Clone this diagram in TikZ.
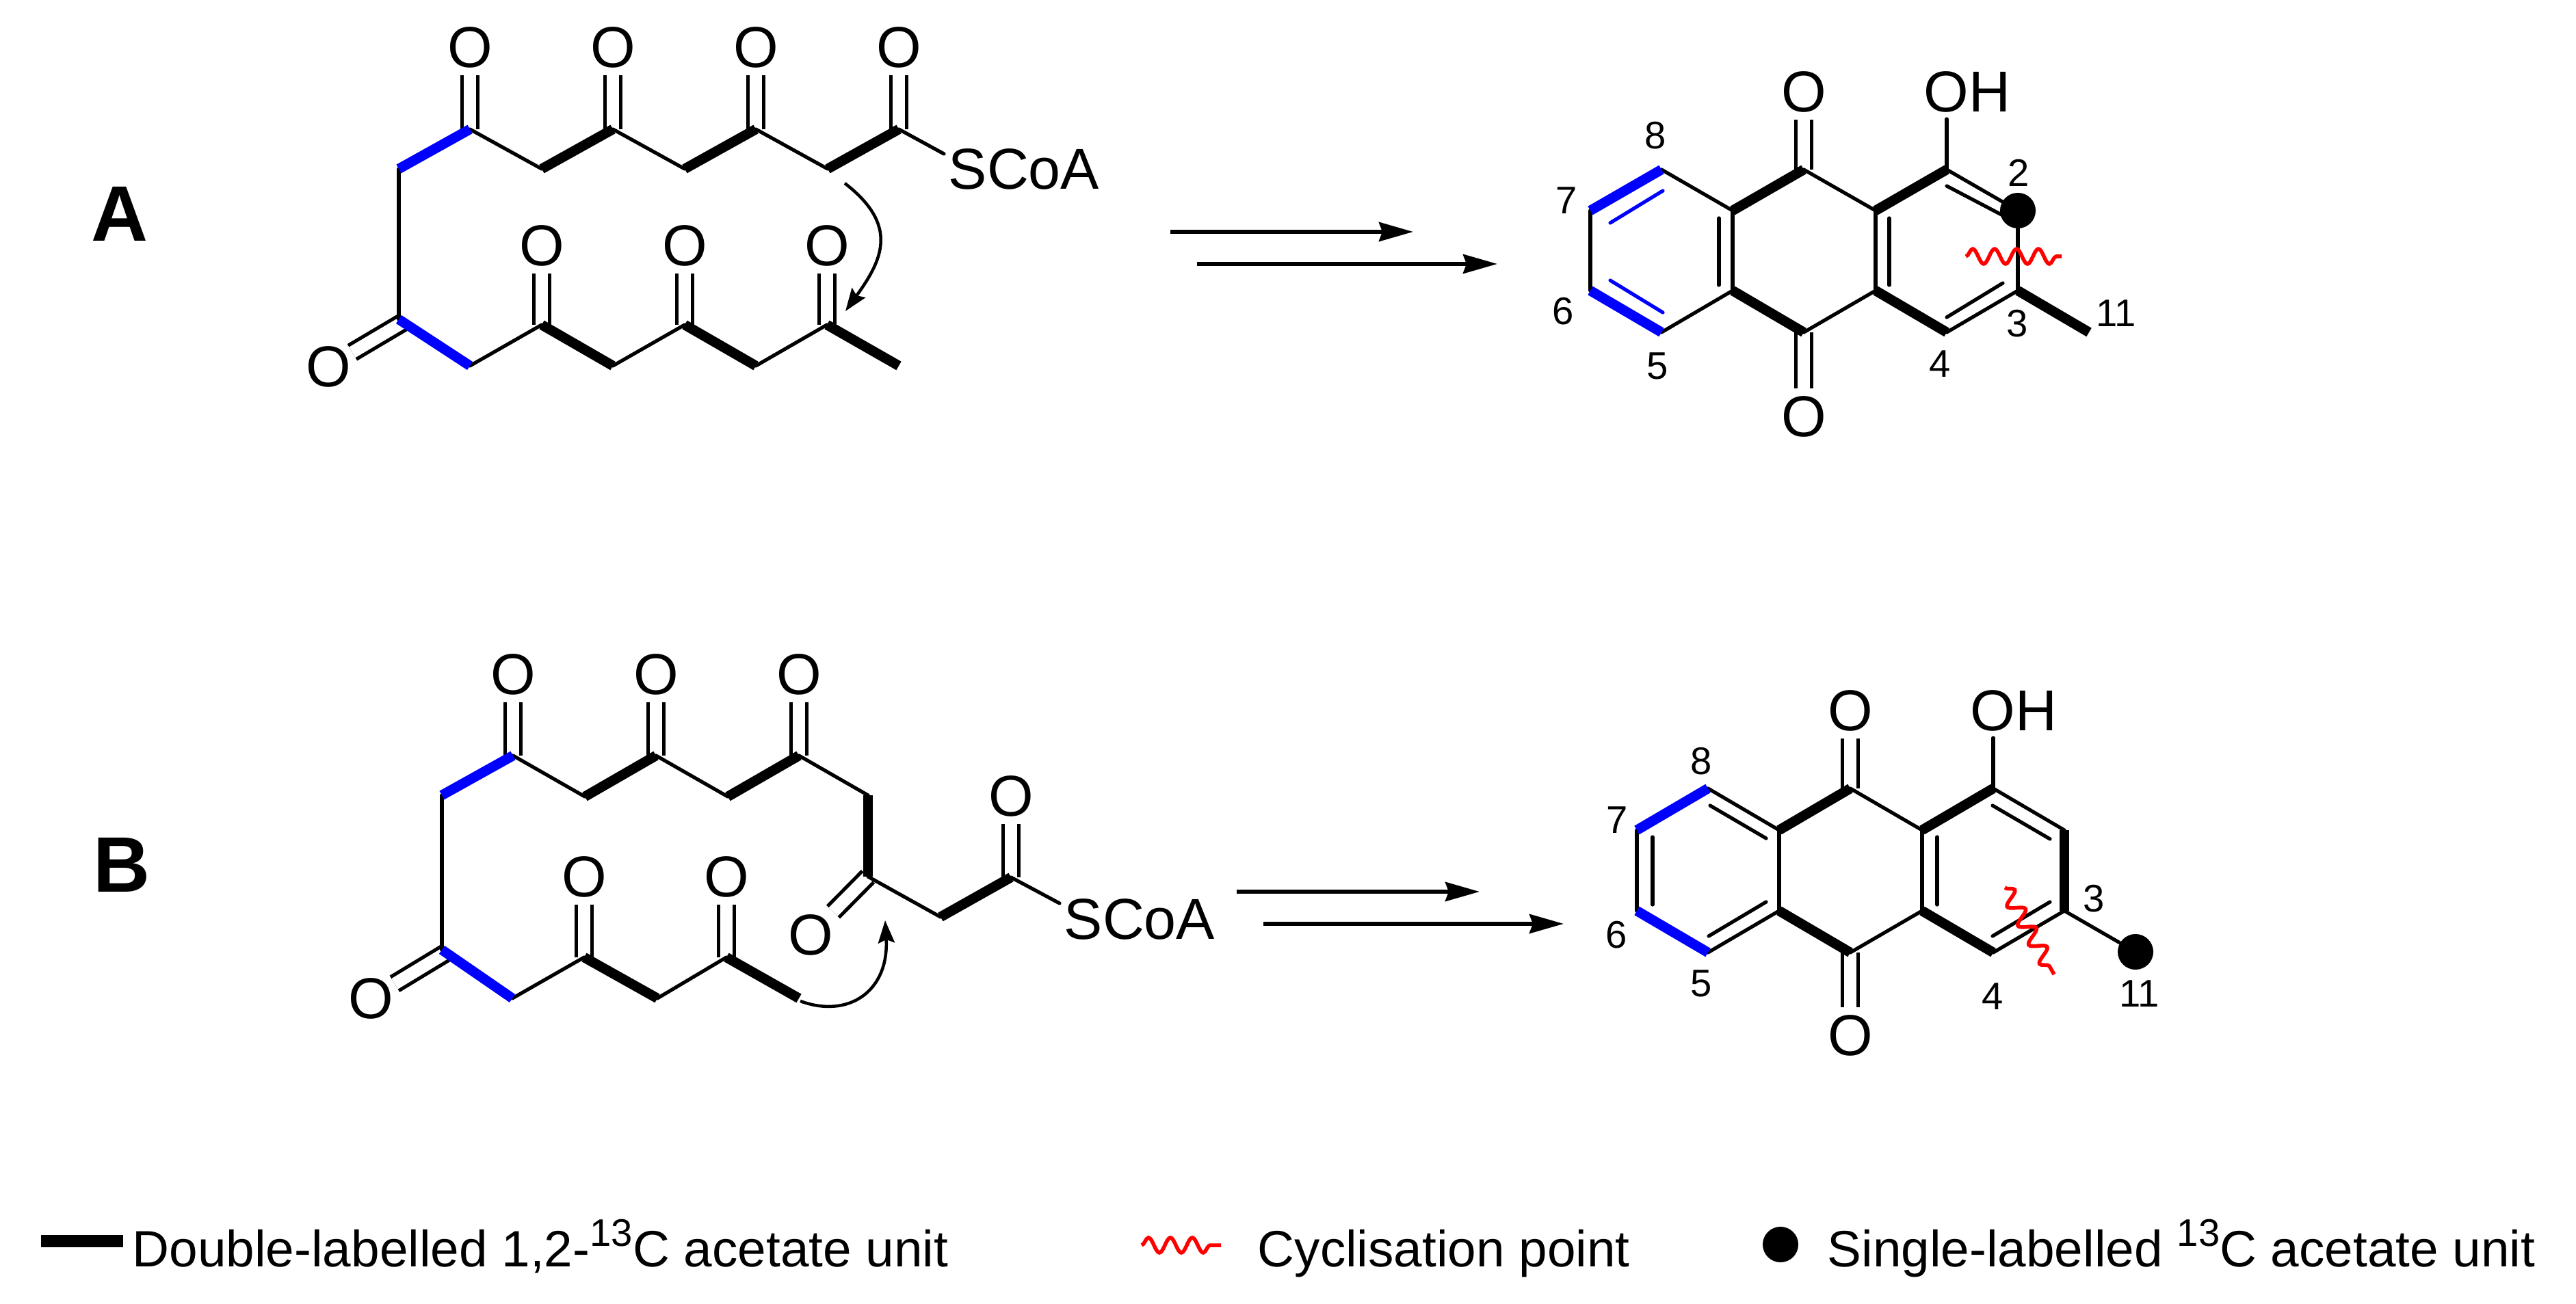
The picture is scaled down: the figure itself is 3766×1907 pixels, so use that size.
\documentclass[tikz,border=0pt]{standalone}
\usepackage{fontspec}
\setmainfont{Liberation Sans}
\usetikzlibrary{arrows.meta,decorations.pathmorphing}

\tikzstyle{refpic}=[x=0.01cm,y=-0.01cm]
\tikzstyle{thinbond}=[line width=0.052cm,line cap=round]
\tikzstyle{boldbond}=[line width=0.145cm]
\tikzstyle{bluebond}=[boldbond,color=blue]
\tikzstyle{bluethin}=[thinbond,color=blue]
\tikzstyle{ketone}=[line width=0.052cm,double,double distance=0.18cm]
\tikzstyle{tiltketone}=[ketone,shorten >=-0.1cm]
\tikzstyle{atom}=[font=\fontsize{24}{28}\selectfont,inner sep=0.1cm]
\tikzstyle{locant}=[font=\fontsize{16}{18}\selectfont,inner sep=0pt]
\tikzstyle{panel}=[font=\fontsize{32.7}{36}\selectfont\bfseries,inner sep=0pt]
\tikzstyle{legend}=[font=\fontsize{21.25}{24}\selectfont,inner sep=0pt,anchor=base west]
\tikzstyle{labeldot}=[circle,fill=black,inner sep=0pt,minimum size=0.52cm]
\tikzstyle{stepped}=[line width=0.055cm,-{Stealth[length=0.5cm,width=0.28cm,inset=0.05cm]}]
\tikzstyle{curly}=[line width=0.045cm,-{Stealth[length=0.33cm,width=0.24cm,inset=0.05cm]}]
\tikzstyle{wavy}=[color=red,line width=0.055cm,decorate,decoration={snake,segment length=0.32cm,amplitude=0.11cm}]

\begin{document}
\begin{tikzpicture}[style=refpic]
\useasboundingbox (0,0) rectangle (3766,1907);

% panel A, open chain
\node[panel] (panA) at (175,313) {A};
\coordinate (alft) at (583,247);
\coordinate (ak1) at (687,189);
\coordinate (am1) at (792,247);
\coordinate (ak2) at (896,189);
\coordinate (am2) at (1001,247);
\coordinate (ak3) at (1105,189);
\coordinate (am3) at (1210,247);
\coordinate (ak4) at (1314,189);
\coordinate (asend) at (1380,225);
\coordinate (blft) at (588,472);
\coordinate (blfb) at (583,467);
\coordinate (bm1) at (687,535);
\coordinate (bk1) at (792,475);
\coordinate (bm2) at (896,535);
\coordinate (bk2) at (1001,475);
\coordinate (bm3) at (1105,535);
\coordinate (bk3) at (1209,475);
\coordinate (bme) at (1314,535);
\node[atom] (ao1) at (687,69) {O};
\node[atom] (ao2) at (896,69) {O};
\node[atom] (ao3) at (1105,69) {O};
\node[atom] (ao4) at (1314,69) {O};
\node[atom] (bo1) at (792,359) {O};
\node[atom] (bo2) at (1001,359) {O};
\node[atom] (bo3) at (1209,359) {O};
\node[atom] (bo4) at (480,536) {O};
\node[atom,anchor=base west,inner sep=0pt] (ascoa) at (1386,277) {SCoA};
\draw[ketone] (ak1) -- (ao1);
\draw[ketone] (ak2) -- (ao2);
\draw[ketone] (ak3) -- (ao3);
\draw[ketone] (ak4) -- (ao4);
\draw[ketone] (bk1) -- (bo1);
\draw[ketone] (bk2) -- (bo2);
\draw[ketone] (bk3) -- (bo3);
\draw[tiltketone] (blft) -- (bo4);
\draw[thinbond] (ak1) -- (am1);
\draw[thinbond] (ak2) -- (am2);
\draw[thinbond] (ak3) -- (am3);
\draw[thinbond] (ak4) -- (asend);
\draw[thinbond] (alft) -- (blfb);
\draw[thinbond] (bm1) -- (bk1);
\draw[thinbond] (bm2) -- (bk2);
\draw[thinbond] (bm3) -- (bk3);
\draw[bluebond] (alft) -- (ak1);
\draw[boldbond] (am1) -- (ak2);
\draw[boldbond] (am2) -- (ak3);
\draw[boldbond] (am3) -- (ak4);
\draw[bluebond] (blfb) -- (bm1);
\draw[boldbond] (bk1) -- (bm2);
\draw[boldbond] (bk2) -- (bm3);
\draw[boldbond] (bk3) -- (bme);
\coordinate (acs) at (1235,268);
\coordinate (ace) at (1236,455);
\draw[curly] (acs) .. controls (1315,330) and (1290,380) .. (ace);

% panel A, arrows
\coordinate (ar1s) at (1711,339);
\coordinate (ar1e) at (2066,339);
\coordinate (ar2s) at (1750,386);
\coordinate (ar2e) at (2189,386);
\draw[stepped] (ar1s) -- (ar1e);
\draw[stepped] (ar2s) -- (ar2e);

% panel A, product
\coordinate (p7) at (2325,308);
\coordinate (p8) at (2429,248);
\coordinate (p6) at (2325,425);
\coordinate (p5) at (2429,486);
\coordinate (pj1) at (2533,308);
\coordinate (pj2) at (2533,425);
\coordinate (pk1) at (2637,248);
\coordinate (pk2) at (2637,486);
\coordinate (pj3) at (2742,308);
\coordinate (pj4) at (2742,425);
\coordinate (pc1) at (2846,248);
\coordinate (pc4) at (2846,486);
\coordinate (pc2) at (2950,308);
\coordinate (pc3) at (2950,425);
\coordinate (pme) at (3054,486);
\node[atom] (po1) at (2637,134) {O};
\node[atom] (po2) at (2637,609) {O};
\node[atom,inner sep=0pt] (poh) at (2876,134) {OH};
\coordinate (pohb) at (2846,174);
\draw[ketone] (pk1) -- (po1);
\draw[ketone] (pk2) -- (po2);
\draw[thinbond] (pc1) -- (pohb);
\draw[thinbond] (p7) -- (p6);
\draw[thinbond] (p8) -- (pj1);
\draw[thinbond] (p5) -- (pj2);
\draw[thinbond] (pj1) -- (pj2);
\draw[thinbond] (pk1) -- (pj3);
\draw[thinbond] (pk2) -- (pj4);
\draw[thinbond] (pj3) -- (pj4);
\draw[thinbond] (pc1) -- (pc2);
\draw[thinbond] (pc2) -- (pc3);
\draw[thinbond] (pc3) -- (pc4);
\draw[bluebond] (p7) -- (p8);
\draw[bluebond] (p6) -- (p5);
\draw[boldbond] (pj1) -- (pk1);
\draw[boldbond] (pj2) -- (pk2);
\draw[boldbond] (pj3) -- (pc1);
\draw[boldbond] (pj4) -- (pc4);
\draw[boldbond] (pc3) -- (pme);
\coordinate (pi1) at (2431,279);
\coordinate (pi2) at (2354,326);
\coordinate (pi3) at (2354,410);
\coordinate (pi4) at (2431,457);
\coordinate (pi5) at (2513,319);
\coordinate (pi6) at (2513,417);
\coordinate (pi7) at (2762,319);
\coordinate (pi8) at (2762,417);
\coordinate (pi9) at (2846,272);
\coordinate (pi10) at (2928,315);
\coordinate (pi11) at (2928,414);
\coordinate (pi12) at (2846,464);
\draw[bluethin] (pi1) -- (pi2);
\draw[bluethin] (pi3) -- (pi4);
\draw[thinbond] (pi5) -- (pi6);
\draw[thinbond] (pi7) -- (pi8);
\draw[thinbond] (pi9) -- (pi10);
\draw[thinbond] (pi11) -- (pi12);
\node[labeldot] (pdot) at (2950,308) {};
\coordinate (pwl) at (2874,375);
\coordinate (pwr) at (3014,375);
\draw[wavy] (pwl) -- (pwr);
\node[locant] (pl8) at (2420,198) {8};
\node[locant] (pl7) at (2290,293) {7};
\node[locant] (pl6) at (2285,455) {6};
\node[locant] (pl5) at (2423,535) {5};
\node[locant] (pl4) at (2836,532) {4};
\node[locant] (pl3) at (2949,473) {3};
\node[locant] (pl2) at (2951,253) {2};
\node[locant] (pl11) at (3094,458) {11};

% panel B, open chain
\node[panel] (panB) at (178,1265) {B};
\coordinate (clft) at (646,1163);
\coordinate (ck1) at (750,1105);
\coordinate (cm1) at (855,1165);
\coordinate (ck2) at (959,1105);
\coordinate (cm2) at (1064,1165);
\coordinate (ck3) at (1168,1105);
\coordinate (cm3) at (1269,1163);
\coordinate (ck4) at (1269,1282);
\coordinate (cm4) at (1375,1341);
\coordinate (ck5) at (1478,1283);
\coordinate (csend) at (1549,1321);
\coordinate (dlft) at (646,1389);
\coordinate (dlfb) at (651,1394);
\coordinate (dm1) at (749,1460);
\coordinate (dk1) at (854,1400);
\coordinate (dm2) at (961,1460);
\coordinate (dk2) at (1062,1400);
\coordinate (dme) at (1168,1460);
\node[atom] (co1) at (750,986) {O};
\node[atom] (co2) at (959,986) {O};
\node[atom] (co3) at (1168,986) {O};
\node[atom] (co4) at (1185,1367) {O};
\node[atom] (co5) at (1478,1164) {O};
\node[atom] (do1) at (854,1282) {O};
\node[atom] (do2) at (1062,1282) {O};
\node[atom] (do3) at (542,1460) {O};
\node[atom,anchor=base west,inner sep=0pt] (cscoa) at (1555,1373) {SCoA};
\draw[ketone] (ck1) -- (co1);
\draw[ketone] (ck2) -- (co2);
\draw[ketone] (ck3) -- (co3);
\draw[tiltketone] (ck4) -- (co4);
\draw[ketone] (ck5) -- (co5);
\draw[ketone] (dk1) -- (do1);
\draw[ketone] (dk2) -- (do2);
\draw[tiltketone] (dlfb) -- (do3);
\draw[thinbond] (clft) -- (dlft);
\draw[thinbond] (ck1) -- (cm1);
\draw[thinbond] (ck2) -- (cm2);
\draw[thinbond] (ck3) -- (cm3);
\draw[thinbond] (ck4) -- (cm4);
\draw[thinbond] (ck5) -- (csend);
\draw[thinbond] (dm1) -- (dk1);
\draw[thinbond] (dm2) -- (dk2);
\draw[bluebond] (clft) -- (ck1);
\draw[boldbond] (cm1) -- (ck2);
\draw[boldbond] (cm2) -- (ck3);
\draw[boldbond] (cm3) -- (ck4);
\draw[boldbond] (cm4) -- (ck5);
\draw[bluebond] (dlft) -- (dm1);
\draw[boldbond] (dk1) -- (dm2);
\draw[boldbond] (dk2) -- (dme);
\coordinate (ccs) at (1170,1464);
\coordinate (cce) at (1294,1346);
\draw[curly] (ccs) .. controls (1240,1490) and (1300,1450) .. (cce);

% panel B, arrows
\coordinate (cr1s) at (1808,1304);
\coordinate (cr1e) at (2163,1304);
\coordinate (cr2s) at (1847,1351);
\coordinate (cr2e) at (2286,1351);
\draw[stepped] (cr1s) -- (cr1e);
\draw[stepped] (cr2s) -- (cr2e);

% panel B, product
\coordinate (q7) at (2393,1214);
\coordinate (q8) at (2497,1153);
\coordinate (q6) at (2393,1332);
\coordinate (q5) at (2497,1393);
\coordinate (qj1) at (2601,1214);
\coordinate (qj2) at (2601,1332);
\coordinate (qk1) at (2705,1153);
\coordinate (qk2) at (2705,1393);
\coordinate (qj3) at (2810,1214);
\coordinate (qj4) at (2810,1332);
\coordinate (qc1) at (2914,1153);
\coordinate (qc4) at (2914,1393);
\coordinate (qc2) at (3018,1214);
\coordinate (qc3) at (3018,1332);
\node[atom] (qo1) at (2705,1039) {O};
\node[atom] (qo2) at (2705,1514) {O};
\node[atom,inner sep=0pt] (qoh) at (2944,1039) {OH};
\coordinate (qohb) at (2914,1079);
\draw[ketone] (qk1) -- (qo1);
\draw[ketone] (qk2) -- (qo2);
\draw[thinbond] (qc1) -- (qohb);
\draw[thinbond] (q7) -- (q6);
\draw[thinbond] (q8) -- (qj1);
\draw[thinbond] (q5) -- (qj2);
\draw[thinbond] (qj1) -- (qj2);
\draw[thinbond] (qk1) -- (qj3);
\draw[thinbond] (qk2) -- (qj4);
\draw[thinbond] (qj3) -- (qj4);
\draw[thinbond] (qc1) -- (qc2);
\draw[thinbond] (qc3) -- (qc4);
\node[labeldot] (qdot) at (3122,1392) {};
\draw[thinbond] (qc3) -- (qdot);
\draw[bluebond] (q7) -- (q8);
\draw[bluebond] (q6) -- (q5);
\draw[boldbond] (qj1) -- (qk1);
\draw[boldbond] (qj2) -- (qk2);
\draw[boldbond] (qj3) -- (qc1);
\draw[boldbond] (qj4) -- (qc4);
\draw[boldbond] (qc2) -- (qc3);
\coordinate (qi1) at (2500,1178);
\coordinate (qi2) at (2582,1226);
\coordinate (qi3) at (2416,1224);
\coordinate (qi4) at (2416,1323);
\coordinate (qi5) at (2498,1369);
\coordinate (qi6) at (2582,1319);
\coordinate (qi7) at (2832,1224);
\coordinate (qi8) at (2832,1323);
\coordinate (qi9) at (2913,1178);
\coordinate (qi10) at (2997,1227);
\coordinate (qi11) at (2997,1319);
\coordinate (qi12) at (2913,1369);
\draw[thinbond] (qi1) -- (qi2);
\draw[thinbond] (qi3) -- (qi4);
\draw[thinbond] (qi5) -- (qi6);
\draw[thinbond] (qi7) -- (qi8);
\draw[thinbond] (qi9) -- (qi10);
\draw[thinbond] (qi11) -- (qi12);
\coordinate (qwl) at (2931,1298);
\coordinate (qwr) at (3003,1425);
\draw[wavy] (qwl) -- (qwr);
\node[locant] (ql8) at (2487,1113) {8};
\node[locant] (ql7) at (2364,1199) {7};
\node[locant] (ql6) at (2363,1367) {6};
\node[locant] (ql5) at (2487,1438) {5};
\node[locant] (ql4) at (2913,1457) {4};
\node[locant] (ql3) at (3061,1314) {3};
\node[locant] (ql11) at (3128,1453) {11};

% legend
\coordinate (kbl) at (60,1815);
\coordinate (kbr) at (180,1815);
\draw[line width=0.18cm] (kbl) -- (kbr);
\node[legend] (kt1) at (193,1852) {Double-labelled 1,2-\raisebox{0.29cm}{\fontsize{16}{18}\selectfont 13}C acetate unit};
\coordinate (kwl) at (1669,1821);
\coordinate (kwr) at (1785,1821);
\draw[wavy] (kwl) -- (kwr);
\node[legend] (kt2) at (1838,1852) {Cyclisation point};
\node[labeldot] (kdot) at (2603,1820) {};
\node[legend] (kt3) at (2671,1852) {Single-labelled \raisebox{0.29cm}{\fontsize{16}{18}\selectfont 13}C acetate unit};
\end{tikzpicture}
\end{document}
